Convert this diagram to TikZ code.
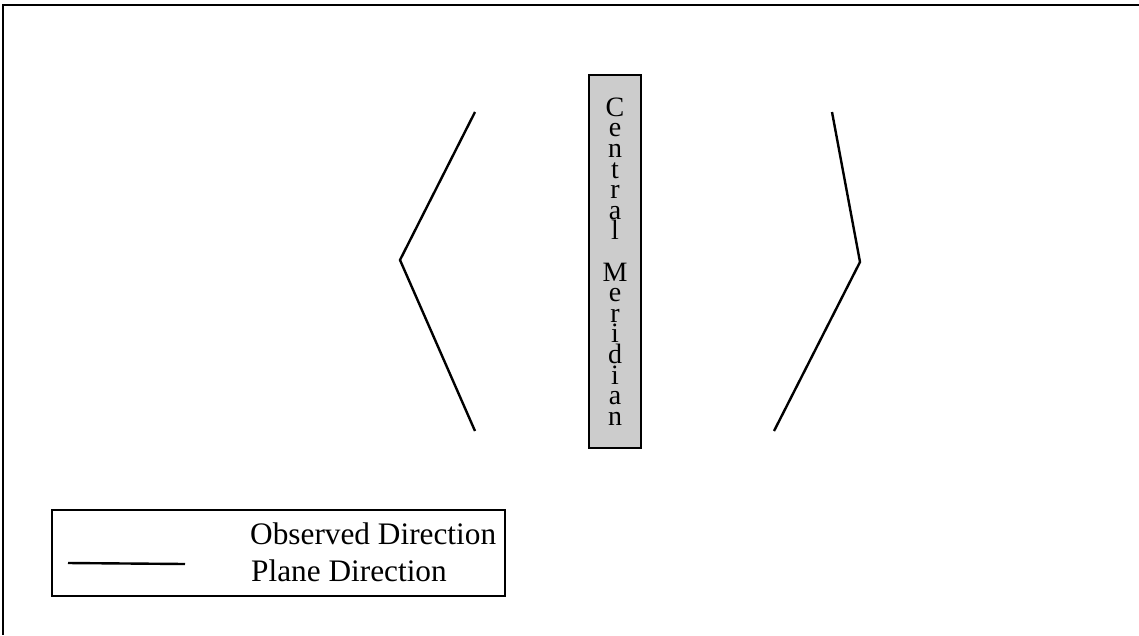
\documentclass[tikz,border=0pt]{standalone}
\usepackage{fontspec}
\setmainfont{Liberation Serif}
\begin{document}
\begin{tikzpicture}[x=1pt,y=-1pt,
  plane/.style={line width=2.4pt,line join=miter},
  frame/.style={line width=1.8pt},
  meridian/.style={draw=black,line width=2pt,fill=black!20,minimum width=52pt,minimum height=373pt,inner sep=0pt},
  legendbox/.style={draw=black,line width=2.2pt,minimum width=453pt,minimum height=86pt,inner sep=0pt},
  legtext/.style={anchor=base west,inner sep=0pt,font=\fontsize{31.3}{36}\selectfont}]
\useasboundingbox (0,0) rectangle (1139,635);
% outer frame (top and left edges)
\coordinate (ftr) at (1139,5);
\coordinate (ftl) at (3,5);
\coordinate (fbl) at (3,635);
\draw[frame] (ftr) -- (ftl) -- (fbl);
% central meridian
\node[meridian,align=center,font=\fontsize{28}{20.6}\selectfont] (cm) at (615,261.5)
  {C\\e\\n\\t\\r\\a\\l\\[20.6pt]M\\e\\r\\i\\d\\i\\a\\n};
% left chevron
\coordinate (l1) at (475,112);
\coordinate (l2) at (400,260);
\coordinate (l3) at (475,431);
\draw[plane] (l1) -- (l2) -- (l3);
% right chevron
\coordinate (r1) at (832,112);
\coordinate (r2) at (860,262);
\coordinate (r3) at (774,431);
\draw[plane] (r1) -- (r2) -- (r3);
% legend
\node[legendbox] (leg) at (278.5,553) {};
\coordinate (la) at (68,563);
\coordinate (lb) at (185,564);
\draw[plane] (la) -- (lb);
\node[legtext] (obs) at (250,544) {Observed Direction};
\node[legtext] (pla) at (251,581) {Plane Direction};
\end{tikzpicture}
\end{document}
